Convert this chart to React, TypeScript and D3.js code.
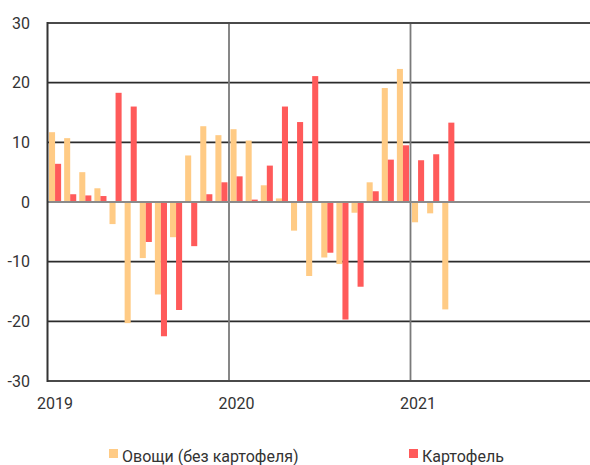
import React, { useEffect, useRef } from "react";
import * as d3 from "d3";

// monthly change, %, Jan 2019 .. Mar 2021
const months = d3.range(36).map((i) => `m${i}`);
const years = ["2019", "2020", "2021"];
const vegetables = [
  11.7, 10.7, 5.0, 2.3, -3.7, -20.3, -9.4, -15.5, -5.9, 7.8, 12.7, 11.2,
  12.2, 10.3, 2.8, 0.6, -4.8, -12.4, -9.3, -10.4, -1.8, 3.3, 19.1, 22.3,
  -3.4, -1.9, -18.0,
];
const potatoes = [
  6.4, 1.3, 1.1, 1.0, 18.3, 16.0, -6.7, -22.5, -18.1, -7.4, 1.3, 3.3,
  4.3, 0.4, 6.1, 16.0, 13.4, 21.1, -8.5, -19.7, -14.2, 1.8, 7.1, 9.5,
  7.0, 8.0, 13.3,
];
const yTicks = [30, 20, 10, 0, -10, -20, -30];
const seriesNames = ["Овощи (без картофеля)", "Картофель"];
const colors = ["#ffcb85", "#ff5a5a"];

const W = 590;
const H = 465;
const FONT = "Roboto, 'DejaVu Sans', sans-serif";

const App = () => {
  const ref = useRef(null);

  useEffect(() => {
    const svg = d3.select(ref.current);
    svg.selectAll("*").remove();

    const left = 47.5;
    const right = 592;
    const top = 23;
    const bottom = 381;

    const x = d3.scaleBand().domain(months).range([left, right]);
    const inner = d3
      .scaleBand()
      .domain(["veg", "pot"])
      .range([0, x.bandwidth()])
      .paddingOuter(0.25);
    const y = d3.scaleLinear().domain([-30, 30]).range([bottom, top]);

    // horizontal grid
    svg
      .append("g")
      .selectAll("line")
      .data(yTicks.filter((t) => t !== 0 && Math.abs(t) !== 30))
      .enter()
      .append("line")
      .attr("x1", left)
      .attr("x2", W)
      .attr("y1", (d) => y(d))
      .attr("y2", (d) => y(d))
      .attr("stroke", "#2b2b2b")
      .attr("stroke-width", 1.6);

    // year lines
    svg
      .append("g")
      .selectAll("line")
      .data([12, 24])
      .enter()
      .append("line")
      .attr("x1", (d) => x(months[d]))
      .attr("x2", (d) => x(months[d]))
      .attr("y1", top)
      .attr("y2", bottom)
      .attr("stroke", "#7a7a7a")
      .attr("stroke-width", 1.8);

    // bars
    const drawBars = (vals, key, color) => {
      svg
        .append("g")
        .selectAll("rect")
        .data(vals)
        .enter()
        .append("rect")
        .attr("x", (d, i) => x(months[i]) + inner(key))
        .attr("width", inner.bandwidth())
        .attr("y", (d) => y(Math.max(0, d)))
        .attr("height", (d) => Math.abs(y(d) - y(0)))
        .attr("fill", color);
    };
    drawBars(vegetables, "veg", colors[0]);
    drawBars(potatoes, "pot", colors[1]);

    // zero line
    svg
      .append("line")
      .attr("x1", left)
      .attr("x2", W)
      .attr("y1", y(0))
      .attr("y2", y(0))
      .attr("stroke", "#8a8a8a")
      .attr("stroke-width", 2);

    // frame: top, bottom, left
    [30, -30].forEach((t) => {
      svg
        .append("line")
        .attr("x1", left)
        .attr("x2", W)
        .attr("y1", y(t))
        .attr("y2", y(t))
        .attr("stroke", "#4a4a4a")
        .attr("stroke-width", 2);
    });
    svg
      .append("line")
      .attr("x1", left)
      .attr("x2", left)
      .attr("y1", top - 1)
      .attr("y2", bottom + 1)
      .attr("stroke", "#333")
      .attr("stroke-width", 2);

    // y labels
    svg
      .append("g")
      .selectAll("text")
      .data(yTicks)
      .enter()
      .append("text")
      .attr("x", 30)
      .attr("y", (d) => y(d))
      .attr("dy", "0.36em")
      .attr("text-anchor", "end")
      .style("font-family", FONT)
      .style("font-size", "16px")
      .style("fill", "#333")
      .text((d) => d);

    // x labels
    svg
      .append("g")
      .selectAll("text")
      .data(years)
      .enter()
      .append("text")
      .attr("x", (d, i) => x(months[i * 12]) + x.bandwidth() / 2)
      .attr("y", 409)
      .attr("text-anchor", "middle")
      .style("font-family", FONT)
      .style("font-size", "16px")
      .style("fill", "#333")
      .text((d) => d);

    // legend
    const legendX = [109, 409];
    const lg = svg
      .append("g")
      .selectAll("g")
      .data(seriesNames)
      .enter()
      .append("g")
      .attr("transform", (d, i) => `translate(${legendX[i]}, 449)`);
    lg.append("rect")
      .attr("width", 9)
      .attr("height", 9)
      .attr("fill", (d, i) => colors[i]);
    lg.append("text")
      .attr("x", 13)
      .attr("y", 13)
      .style("font-family", FONT)
      .style("font-size", "16px")
      .style("fill", "#333")
      .text((d) => d);
  }, []);

  return (
    <svg
      ref={ref}
      width={W}
      height={H}
      style={{ position: "absolute", left: 0, top: 0, background: "#fff" }}
    />
  );
};

export default App;
